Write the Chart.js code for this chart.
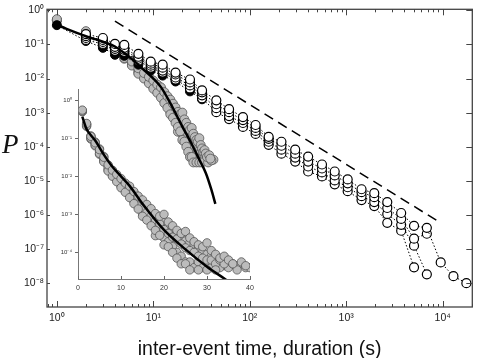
<!DOCTYPE html>
<html>
<head>
<meta charset="utf-8">
<script src="https://cdn.jsdelivr.net/npm/chart.js@4.4.1/dist/chart.umd.min.js"></script>
<style>
  html, body { margin: 0; padding: 0; background: #fff; }
  #wrap { position: relative; width: 478px; height: 358px; }
  #main { position: absolute; left: 0; top: 0; }
  #inset { position: absolute; left: 50px; top: 80px; }
</style>
</head>
<body>
<div id="wrap">
  <canvas id="main" width="478" height="358"></canvas>
  <canvas id="inset" width="210" height="220"></canvas>
</div>
<script>
// log-binned times (s) for the open / black series
const binX = [1, 2, 3, 4, 5, 7, 9.4, 12.5, 17, 24, 32, 45, 61, 85, 115, 157, 213, 296, 403, 561,
  760, 1036, 1442, 1954, 2666, 3715, 5050, 6857, 9548, 12940, 17620];

const openA = [null, 0.201, 0.154, 0.103, 0.0968, 0.0531, 0.0311, 0.0255, 0.0149, 0.00935, 0.00449,
  0.0023, 0.00126, 7.41e-4, 4.34e-4, 1.95e-4, 1.4e-4, 8.18e-5, 5.13e-5, 3.01e-5, 1.88e-5, 1.1e-5,
  5.67e-6, 4.34e-6, 2.38e-6, 1.14e-6, 4.8e-7, 4.2e-7, 4.06e-8, 1.6e-8, 1.0e-8];
const openB = [null, 0.176, 0.135, 0.0847, 0.0792, 0.0434, 0.0272, 0.0208, 0.0131, 0.00766, 0.00393,
  0.00176, 0.00103, 6.06e-4, 3.55e-4, 1.71e-4, 1.07e-4, 6.27e-5, 3.67e-5, 2.3e-5, 1.44e-5, 8.47e-6,
  4.64e-6, 3.33e-6, 1.6e-6, 7.66e-7, 2.01e-7, 2.81e-7];
const openC = [null, 0.154, 0.118, 0.0741, 0.0693, 0.038, 0.0238, 0.0171, 0.0107, 0.00627, 0.00321,
  0.00135, 7.92e-4, 4.96e-4, 2.91e-4, 1.4e-4, 8.18e-5, 4.8e-5, 2.63e-5, 1.76e-5, 1.03e-5, 6.48e-6,
  3.56e-6, 2.38e-6, 1.07e-6, 5.13e-7, 1.26e-7, 1.82e-8];
const openD = [null, 0.135, 0.103, 0.0648, 0.0606, 0.0332, 0.0208, 0.0149, 0.00935, 0.00513, 0.00263,
  0.00103, 6.48e-4, 3.8e-4, 2.38e-4, 1.14e-4, 6.27e-5, 3.67e-5, 1.88e-5, 1.35e-5, 7.92e-6, 4.96e-6,
  2.72e-6, 1.82e-6, 5.86e-7, 3.44e-7, 2.91e-8];
const filled = [0.367, 0.126, 0.0792, 0.0496, 0.0464, 0.0255, 0.0171, 0.0122, 0.00818, 0.0042, 0.00246];

// gray data (also shown in the inset, linear time)
const grayX = [1, 2, 3, 4, 5, 6, 7, 8, 9, 10, 11, 12, 13, 14, 15, 16, 17, 18, 19, 20, 21,
  22, 23, 24, 25, 26, 27, 28, 29, 30, 31, 32, 33, 34, 35, 36, 37, 38, 39, 40, 41, 42];
const gray1 = [0.55, 0.245, 0.112, 0.0759, 0.0501, 0.0316, 0.02, 0.0145, 0.0112, 0.00871, 0.00661,
  0.0055, 0.00398, 0.00302, 0.0024, 0.00182, 0.00141, 0.00105, 8.91e-4, 1.0e-3, 6.31e-4, 5.01e-4,
  3.8e-4, 3.16e-4, 3.55e-4, 2.4e-4, 1.91e-4, 1.58e-4, 1.41e-4, 1.78e-4, 1.12e-4, 8.91e-5, 7.08e-5,
  7.94e-5, 6.31e-5, 5.01e-5, null, 5.62e-5, 4.47e-5, null, null, null];
const gray2 = [0.52, 0.215, 0.1, 0.0661, 0.0398, 0.024, 0.0138, 0.01, 0.00724, 0.00501, 0.0038,
  0.00275, 0.00191, 0.00138, 8.91e-4, 7.08e-4, 5.01e-4, 3.8e-4, 2.82e-4, 1.58e-4, 1.41e-4, 1.0e-4,
  7.08e-5, 5.01e-5, 5.01e-5, 3.47e-5, null, 3.47e-5, null, 3.47e-5, null, 3.47e-5, null, null,
  null, null, 3.47e-5, null, null, 3.98e-5, null, null];
const gray3 = [0.5, 0.23, 0.107, 0.0708, 0.0447, 0.0282, 0.0166, 0.012, 0.00912, 0.00661, 0.00501,
  0.00398, 0.00282, 0.00209, 0.00141, 0.00112, 8.91e-4, 6.61e-4, 5.62e-4, 3.98e-4, 3.16e-4, 2.51e-4,
  2.24e-4, 1.66e-4, 1.32e-4, 1.12e-4, 1.0e-4, 7.94e-5, 7.08e-5, 6.31e-5, 6.31e-5, 5.01e-5, 6.31e-5,
  5.01e-5, null, 5.01e-5, null, null, null, null, null, 4.17e-5];
const gray4 = [0.51, 0.205, 0.0955, 0.0631, 0.038, 0.0251, 0.0145, 0.0105, 0.00794, 0.0055, 0.00398,
  0.00316, 0.00219, 0.00158, 0.00105, 7.94e-4, 6.03e-4, 2.75e-4, 3.31e-4, 2.4e-4, 1.91e-4, 1.41e-4,
  1.0e-4, 7.94e-5, 5.62e-5, 5.62e-5, 3.98e-5, 5.62e-5, 3.98e-5, 5.62e-5, 3.98e-5, null, 3.98e-5,
  null, 3.98e-5, null, null, null, null, null, null, null];
const gray5 = [0.53, 0.235, 0.115, 0.0794, 0.0525, 0.0331, 0.0191, 0.0138, 0.0105, 0.00794, 0.00631,
  0.00501, 0.00363, 0.00282, 0.002, 0.00158, 0.0012, 9.55e-4, 7.08e-4, 6.31e-4, 4.79e-4, 3.98e-4,
  3.31e-4, 2.51e-4, 2.0e-4, 1.78e-4, 1.58e-4, 1.26e-4, 1.0e-4, 8.91e-5, 7.94e-5, 7.08e-5, 5.62e-5,
  4.47e-5, 5.01e-5, null, 4.47e-5, null, 3.98e-5, null, null, null];

// fitted curve through the gray data
const fitX = [1, 2, 3, 4, 6, 8, 10, 12, 15, 20, 25, 30, 35, 40, 44];
const fitP = [0.37, 0.174, 0.12, 0.087, 0.037, 0.0178, 0.01, 0.0056, 0.0019, 3.9e-4, 1.2e-4, 4.2e-5,
  1.7e-5, 5.5e-6, 2.1e-6];

// power-law guide
const guideX = [4, 9500];
const guideP = [0.48, 5.9e-7];

// tick values
const xTicks = [1, 10, 100, 1000, 10000];
const yTicks = [1, 1e-1, 1e-2, 1e-3, 1e-4, 1e-5, 1e-6, 1e-7, 1e-8];
const insetXTicks = [0, 10, 20, 30, 40];
const insetYTicks = [1, 1e-1, 1e-2, 1e-3, 1e-4];

const SANS = '"Liberation Sans", Arial, Helvetica, sans-serif';
Chart.defaults.font.family = SANS;

const SUP = { '0': '⁰', '1': '¹', '2': '²', '3': '³', '4': '⁴', '5': '⁵', '6': '⁶', '7': '⁷', '8': '⁸', '9': '⁹', '-': '⁻' };
function pow10Label(v) {
  const e = String(Math.round(Math.log10(v)));
  return '10' + e.split('').map(c => SUP[c]).join('');
}
function pts(xs, ys) { return xs.map((x, i) => ({ x: x, y: ys[i] === undefined ? null : ys[i] })); }

function openSet(ys) {
  return { data: pts(binX, ys), showLine: true, borderColor: '#000', borderWidth: 1, borderDash: [1.5, 2],
    pointRadius: 4.5, pointBackgroundColor: '#fff', pointBorderColor: '#000', pointBorderWidth: 1.2, spanGaps: false };
}
function graySet(ys, r) {
  return { data: pts(grayX, ys), showLine: false, pointRadius: r, pointBackgroundColor: '#bcbcbc',
    pointBorderColor: '#555', pointBorderWidth: 0.8 };
}
function line(ctx, x1, y1, x2, y2) { ctx.beginPath(); ctx.moveTo(x1, y1); ctx.lineTo(x2, y2); ctx.stroke(); }

const mainFrame = {
  id: 'mainFrame',
  afterDatasetsDraw(chart) {
    const { ctx, chartArea: a, scales: { x, y } } = chart;
    ctx.save();
    ctx.strokeStyle = '#444';
    ctx.lineWidth = 1.3;
    ctx.strokeRect(a.left, a.top, a.right - a.left, a.bottom - a.top);
    ctx.lineWidth = 1;
    for (let d = -1; d <= 4; d++) {
      for (let m = 1; m <= 9; m++) {
        const v = m * Math.pow(10, d);
        if (v < x.min || v > x.max) continue;
        const px = Math.round(x.getPixelForValue(v)) + 0.5;
        const len = m === 1 ? 6 : 3;
        line(ctx, px, a.bottom, px, a.bottom - len);
        line(ctx, px, a.top, px, a.top + len);
      }
    }
    yTicks.forEach(v => {
      const py = Math.round(y.getPixelForValue(v)) + 0.5;
      line(ctx, a.left, py, a.left + 3, py);
      line(ctx, a.right, py, a.right - 6, py);
    });
    ctx.fillStyle = '#111';
    ctx.font = 'italic 27px "Liberation Serif", "Times New Roman", serif';
    ctx.textBaseline = 'alphabetic';
    ctx.fillText('P', 2, 153);
    ctx.restore();
  }
};

new Chart(document.getElementById('main'), {
  type: 'scatter',
  data: {
    datasets: [
      { data: pts(guideX, guideP), showLine: true, borderColor: '#000', borderWidth: 1.5, borderDash: [10, 6], pointRadius: 0 },
      { data: pts(fitX, fitP), showLine: true, borderColor: '#000', borderWidth: 2.5, pointRadius: 0, cubicInterpolationMode: 'monotone' },
      openSet(openA), openSet(openB), openSet(openC), openSet(openD),
      { data: pts(binX, filled), showLine: true, borderColor: '#000', borderWidth: 1, borderDash: [1.5, 2],
        pointRadius: 4.5, pointBackgroundColor: '#000', pointBorderColor: '#000', pointBorderWidth: 1 },
      graySet(gray1, 4.5), graySet(gray2, 4.5), graySet(gray3, 4.5), graySet(gray4, 4.5), graySet(gray5, 4.5)
    ]
  },
  options: {
    responsive: false,
    animation: false,
    events: [],
    layout: { padding: { left: 0, right: 1, top: 6, bottom: 0 } },
    plugins: { legend: { display: false }, tooltip: { enabled: false } },
    scales: {
      x: {
        type: 'logarithmic', min: 0.79, max: 20300,
        grid: { display: false, drawTicks: false }, border: { display: false },
        afterBuildTicks: s => { s.ticks = xTicks.map(v => ({ value: v })); },
        afterFit: s => { s.height = 51; },
        ticks: { callback: v => pow10Label(v), font: { size: 10.5 }, color: '#222', padding: 5, maxRotation: 0, autoSkip: false },
        title: { display: true, text: 'inter-event time, duration (s)', color: '#111', font: { size: 19.5 }, padding: { top: 0, bottom: -3 } }
      },
      y: {
        type: 'logarithmic', min: 2.0e-9, max: 1.07,
        grid: { display: false, drawTicks: false }, border: { display: false },
        afterBuildTicks: s => { s.ticks = yTicks.map(v => ({ value: v })); },
        afterFit: s => { s.width = 47; },
        ticks: { callback: v => pow10Label(v), font: { size: 10.5 }, color: '#222', padding: 3, autoSkip: false }
      }
    }
  },
  plugins: [mainFrame]
});

const insetTicks = {
  id: 'insetTicks',
  afterDatasetsDraw(chart) {
    const { ctx, chartArea: a, scales: { x, y } } = chart;
    ctx.save();
    ctx.strokeStyle = '#666';
    ctx.lineWidth = 1;
    insetXTicks.forEach(v => {
      const px = Math.round(x.getPixelForValue(v)) + 0.5;
      line(ctx, px, a.bottom, px, a.bottom - 3);
    });
    insetYTicks.forEach(v => {
      const py = Math.round(y.getPixelForValue(v)) + 0.5;
      line(ctx, a.left, py, a.left - 3, py);
    });
    ctx.restore();
  }
};

new Chart(document.getElementById('inset'), {
  type: 'scatter',
  data: {
    datasets: [
      { data: pts(fitX, fitP), showLine: true, borderColor: '#000', borderWidth: 2.5, pointRadius: 0, cubicInterpolationMode: 'monotone' },
      graySet(gray1, 4.2), graySet(gray2, 4.2), graySet(gray3, 4.2), graySet(gray4, 4.2), graySet(gray5, 4.2)
    ]
  },
  options: {
    responsive: false,
    animation: false,
    events: [],
    layout: { padding: { left: 0, right: 10, top: 6, bottom: 0 } },
    plugins: { legend: { display: false }, tooltip: { enabled: false } },
    scales: {
      x: {
        type: 'linear', min: 0, max: 40,
        grid: { display: false, drawTicks: false }, border: { display: true, color: '#777', width: 1 },
        afterBuildTicks: s => { s.ticks = insetXTicks.map(v => ({ value: v })); },
        afterFit: s => { s.height = 21; },
        ticks: { font: { size: 7 }, color: '#333', padding: 5, maxRotation: 0, autoSkip: false }
      },
      y: {
        type: 'logarithmic', min: 2.0e-5, max: 1.9,
        grid: { display: false, drawTicks: false }, border: { display: true, color: '#777', width: 1 },
        afterBuildTicks: s => { s.ticks = insetYTicks.map(v => ({ value: v })); },
        afterFit: s => { s.width = 28; },
        ticks: { callback: v => pow10Label(v), font: { size: 6 }, color: '#333', padding: 6, autoSkip: false }
      }
    }
  },
  plugins: [insetTicks]
});
</script>
</body>
</html>
